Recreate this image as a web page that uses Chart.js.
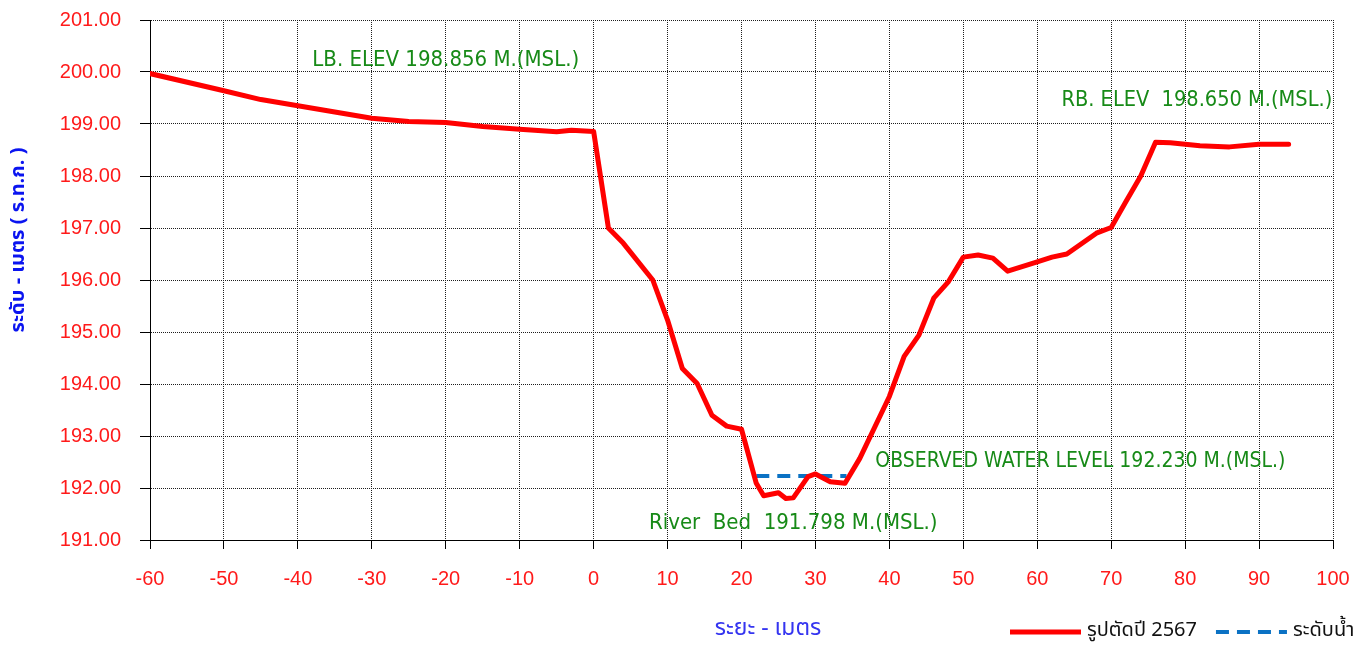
<!DOCTYPE html>
<html lang="th">
<head>
<meta charset="utf-8">
<title>Cross section 2567</title>
<script src="https://cdn.jsdelivr.net/npm/chart.js@4.4.1/dist/chart.umd.min.js"></script>
<style>
  html, body { margin: 0; padding: 0; background: #ffffff; }
  .wrap { width: 1367px; height: 648px; position: relative; }
</style>
</head>
<body>
<div class="wrap"><canvas id="sectionChart"></canvas></div>
<script>
// station (m) and ground elevation (m MSL) of the 2567 survey
const stations = [-60, -50, -45, -40, -35, -30, -25, -20, -15, -10, -5, -3, 0, 2, 4, 8, 10, 12, 14, 16, 18, 20,
  22, 23, 25, 26, 27, 29, 30, 32, 34, 36, 40, 42, 44, 46, 48, 50, 52, 54, 56, 60, 62, 64, 68, 70, 72, 74, 76, 78,
  82, 86, 90, 94];
const elevations = [199.97, 199.64, 199.47, 199.35, 199.23, 199.11, 199.05, 199.03, 198.95, 198.9, 198.85, 198.88,
  198.856, 197.0, 196.71, 196.0, 195.23, 194.3, 194.01, 193.4, 193.19, 193.13, 192.09, 191.85, 191.91, 191.798,
  191.81, 192.22, 192.27, 192.12, 192.09, 192.57, 193.76, 194.53, 194.94, 195.65, 195.97, 196.44, 196.48, 196.42,
  196.17, 196.35, 196.44, 196.5, 196.9, 197.01, 197.51, 198.0, 198.65, 198.64, 198.58, 198.56, 198.61, 198.61];

const waterStations = [22, 34.2];
const waterLevels = [192.23, 192.23];

const xTicks = [-60, -50, -40, -30, -20, -10, 0, 10, 20, 30, 40, 50, 60, 70, 80, 90, 100];
const yTicks = [191, 192, 193, 194, 195, 196, 197, 198, 199, 200, 201];

const notes = [
  { text: "LB. ELEV 198.856 M.(MSL.)", x: -20, y: 200.23, align: "center", size: 22 },
  { text: "RB. ELEV  198.650 M.(MSL.)", x: 99.9, y: 199.46, align: "right", size: 21.6 },
  { text: "OBSERVED WATER LEVEL 192.230 M.(MSL.)", x: 38.1, y: 192.5, align: "left", size: 21 },
  { text: "River  Bed  191.798 M.(MSL.)", x: 27, y: 191.33, align: "center", size: 22 },
];

const labelFont = "'Liberation Sans', Arial, sans-serif";
const noteFont = "'DejaVu Sans Condensed', Tahoma, 'DejaVu Sans', sans-serif";
const thaiFont = "Tahoma, 'Noto Sans Thai', 'Noto Sans', 'DejaVu Sans', sans-serif";

const gridStyle = {
  color: "#1e1e1e",
  lineWidth: 1,
  tickColor: "#000000",
  tickWidth: 1,
  tickBorderDash: [],
};
// in Chart.js v4 the dash of the grid lines sits on the border options
const borderStyle = { display: true, color: "#000000", width: 1, dash: [1, 1] };

const sectionNotes = {
  id: "sectionNotes",
  afterDatasetsDraw(chart) {
    const { ctx, scales } = chart;
    ctx.save();
    ctx.fillStyle = "#178a17";
    ctx.textBaseline = "middle";
    notes.forEach((note) => {
      ctx.font = note.size + "px " + noteFont;
      ctx.textAlign = note.align;
      ctx.fillText(note.text, scales.x.getPixelForValue(note.x), scales.y.getPixelForValue(note.y));
    });
    ctx.restore();
  },
  afterDraw(chart) {
    const { ctx } = chart;
    ctx.save();

    // y axis title
    ctx.translate(20, 240);
    ctx.rotate(-Math.PI / 2);
    ctx.font = "bold 20px " + thaiFont;
    ctx.fillStyle = "#0a14f0";
    ctx.textAlign = "center";
    ctx.textBaseline = "middle";
    ctx.fillText("ระดับ - เมตร ( ร.ท.ก. )", 0, 0);
    ctx.setTransform(1, 0, 0, 1, 0, 0);

    // x axis title
    ctx.font = "23px " + thaiFont;
    ctx.fillStyle = "#3535f0";
    ctx.fillText("ระยะ - เมตร", 768, 630);

    // legend
    let cursor = 1010;
    const rowY = 632;
    ctx.font = "20px " + thaiFont;
    ctx.textAlign = "left";
    chart.data.datasets.forEach((ds) => {
      ctx.beginPath();
      ctx.strokeStyle = ds.borderColor;
      ctx.lineWidth = ds.borderWidth;
      ctx.lineCap = "butt";
      ctx.setLineDash(ds.borderDash || []);
      ctx.moveTo(cursor, rowY);
      ctx.lineTo(cursor + 71, rowY);
      ctx.stroke();
      ctx.setLineDash([]);
      cursor += 77;
      ctx.fillStyle = "#111111";
      ctx.fillText(ds.label, cursor, rowY);
      cursor += ctx.measureText(ds.label).width + 19;
    });
    ctx.restore();
  },
};

function buildSeries(xs, ys) {
  return xs.map((x, i) => ({ x, y: ys[i] }));
}

function renderSection() {
  new Chart(document.getElementById("sectionChart"), {
    type: "line",
    data: {
      datasets: [
        {
          label: "รูปตัดปี 2567",
          data: buildSeries(stations, elevations),
          borderColor: "#ff0000",
          borderWidth: 5,
          borderJoinStyle: "round",
          borderCapStyle: "round",
          pointRadius: 0,
          tension: 0,
        },
        {
          label: "ระดับน้ำ",
          data: buildSeries(waterStations, waterLevels),
          borderColor: "#0b72c4",
          borderWidth: 4,
          borderDash: [13, 8],
          pointRadius: 0,
          tension: 0,
        },
      ],
    },
    options: {
      responsive: true,
      maintainAspectRatio: false,
      animation: false,
      layout: { padding: { left: 0, right: 34, top: 20, bottom: 0 } },
      plugins: {
        legend: { display: false },
        tooltip: { enabled: false },
      },
      scales: {
        x: {
          type: "linear",
          min: -60,
          max: 100,
          afterBuildTicks: (scale) => {
            scale.ticks = xTicks.map((value) => ({ value }));
          },
          afterFit: (scale) => {
            scale.height = 108;
            scale.paddingLeft = 0;
            scale.paddingRight = 0;
          },
          grid: { ...gridStyle, tickLength: 9 },
          border: borderStyle,
          ticks: {
            color: "#ff1a1a",
            font: { family: labelFont, size: 20 },
            padding: 18,
            maxRotation: 0,
          },
        },
        y: {
          type: "linear",
          min: 191,
          max: 201,
          afterBuildTicks: (scale) => {
            scale.ticks = yTicks.map((value) => ({ value }));
          },
          afterFit: (scale) => {
            scale.width = 150;
            scale.paddingTop = 0;
            scale.paddingBottom = 0;
          },
          grid: { ...gridStyle, tickLength: 10 },
          border: borderStyle,
          ticks: {
            color: "#ff1a1a",
            font: { family: labelFont, size: 20 },
            padding: 19,
            callback: (value) => Number(value).toFixed(2),
          },
        },
      },
    },
    plugins: [sectionNotes],
  });
}

document.addEventListener("DOMContentLoaded", renderSection);
</script>
</body>
</html>
